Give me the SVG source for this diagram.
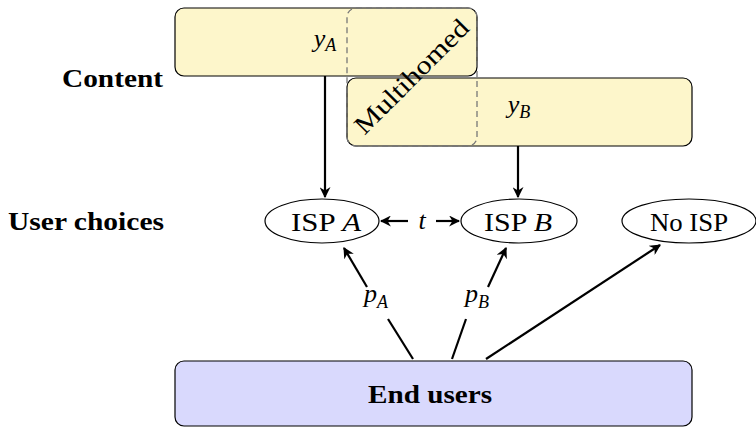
<svg xmlns="http://www.w3.org/2000/svg" width="756" height="427" viewBox="0 0 756 427">
  <style>
    text { font-family: "Liberation Serif", "DejaVu Serif", serif; fill: #000; }
    .lbl { font-size: 25px; font-weight: bold; }
    .node { font-size: 26px; text-anchor: middle; }
    .math { font-style: italic; }
    .sub { font-size: 18px; }
    .content { fill: #fdf6cb; stroke: #000; stroke-width: 1.2; }
    .users { fill: #d9d9fd; stroke: #000; stroke-width: 1.2; }
    .isp { fill: #fff; stroke: #000; stroke-width: 1.2; }
    .dash { fill: none; stroke: #777; stroke-width: 1.3; stroke-dasharray: 6 4; }
    .edge { fill: none; stroke: #000; stroke-width: 2.2; }
  </style>
  <defs>
    <marker id="arr" viewBox="0 0 10 10" refX="9" refY="5" markerWidth="5" markerHeight="5" orient="auto-start-reverse" markerUnits="strokeWidth">
      <path d="M0,0 L10,5 L0,10 L3,5 Z" fill="#000"/>
    </marker>
  </defs>

  <!-- row labels -->
  <text class="lbl" x="62" y="87" textLength="101" lengthAdjust="spacingAndGlyphs">Content</text>
  <text class="lbl" x="8" y="230" textLength="156" lengthAdjust="spacingAndGlyphs">User choices</text>

  <!-- content providers -->
  <g id="contentA">
    <rect class="content" x="175" y="8" width="302" height="68" rx="9"/>
    <text class="node math" x="325" y="47">y<tspan class="sub" dy="4">A</tspan></text>
  </g>
  <g id="contentB">
    <rect class="content" x="347" y="78" width="345" height="68" rx="9"/>
    <text class="node math" x="519" y="113">y<tspan class="sub" dy="5">B</tspan></text>
  </g>
  <g id="multihomed">
    <rect class="dash" x="347" y="8" width="130" height="138" rx="9"/>
    <text class="node" transform="translate(412,77) rotate(-45)" y="8" textLength="150" lengthAdjust="spacingAndGlyphs">Multihomed</text>
  </g>

  <!-- user choices -->
  <g id="ispA">
    <ellipse class="isp" cx="322" cy="221" rx="57" ry="22"/>
    <text class="node" x="326" y="231" textLength="70" lengthAdjust="spacingAndGlyphs">ISP <tspan class="math">A</tspan></text>
  </g>
  <g id="ispB">
    <ellipse class="isp" cx="519" cy="221" rx="58" ry="22"/>
    <text class="node" x="518" y="231" textLength="68" lengthAdjust="spacingAndGlyphs">ISP <tspan class="math">B</tspan></text>
  </g>
  <g id="noIsp">
    <ellipse class="isp" cx="689" cy="221" rx="67" ry="22"/>
    <text class="node" x="689" y="231" textLength="78" lengthAdjust="spacingAndGlyphs">No ISP</text>
  </g>

  <!-- end users -->
  <g id="endUsers">
    <rect class="users" x="175" y="361" width="517" height="65" rx="9"/>
    <text class="node" x="430" y="403" font-size="25px" font-weight="bold" textLength="124" lengthAdjust="spacingAndGlyphs">End users</text>
  </g>

  <!-- connectors -->
  <g id="connectors">
    <line class="edge" x1="325" y1="76" x2="325" y2="197" marker-end="url(#arr)"/>
    <line class="edge" x1="518" y1="146" x2="518" y2="197" marker-end="url(#arr)"/>
    <line class="edge" x1="408" y1="221" x2="381" y2="221" marker-end="url(#arr)"/>
    <line class="edge" x1="436" y1="221" x2="459" y2="221" marker-end="url(#arr)"/>
    <text class="node math" x="422" y="229">t</text>
    <line class="edge" x1="413" y1="359" x2="388" y2="319"/>
    <line class="edge" x1="367" y1="287" x2="344" y2="248" marker-end="url(#arr)"/>
    <line class="edge" x1="452" y1="359" x2="466" y2="319"/>
    <line class="edge" x1="488" y1="287" x2="506" y2="248" marker-end="url(#arr)"/>
    <line class="edge" x1="486" y1="359" x2="660" y2="245" marker-end="url(#arr)"/>
    <text class="node math" x="376" y="302">p<tspan class="sub" dy="6">A</tspan></text>
    <text class="node math" x="477" y="302">p<tspan class="sub" dy="6">B</tspan></text>
  </g>
</svg>
